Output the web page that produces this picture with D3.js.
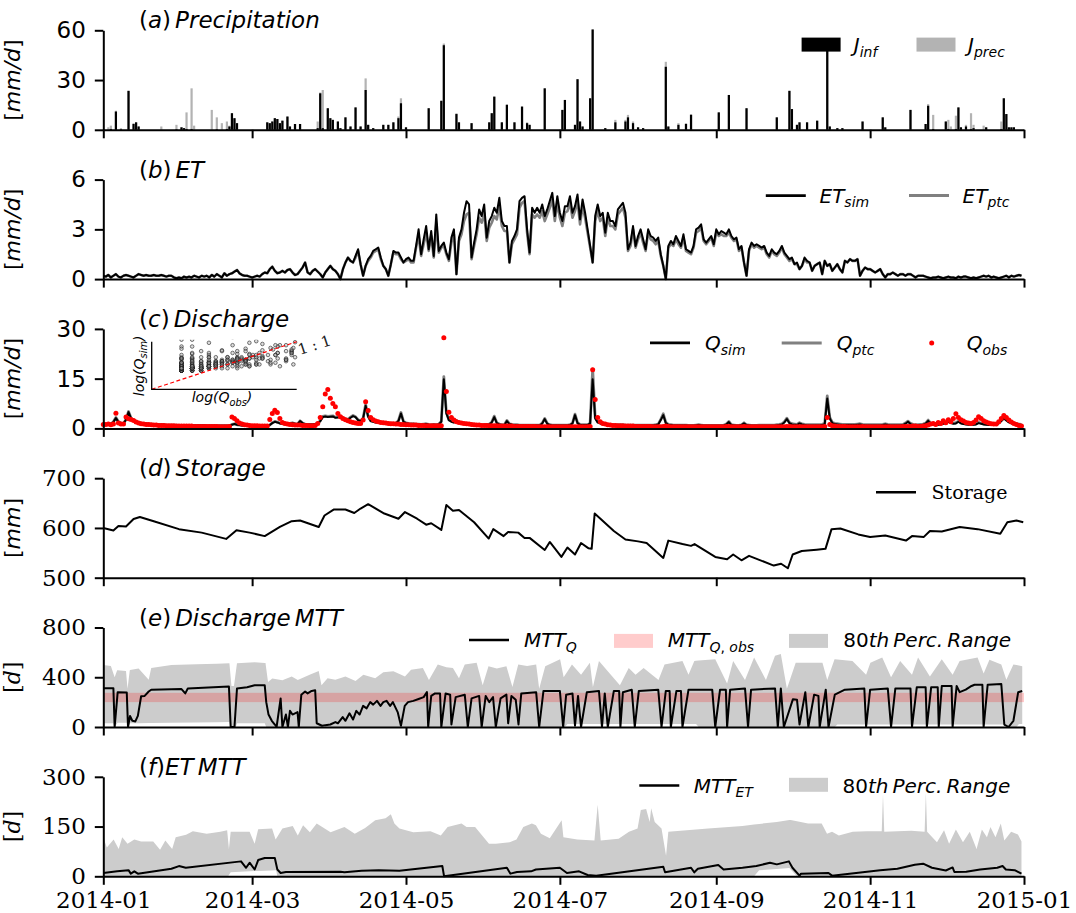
<!DOCTYPE html>
<html><head><meta charset="utf-8">
<script src="https://cdnjs.cloudflare.com/ajax/libs/d3/7.8.5/d3.min.js"></script>
<style>body{margin:0;background:#fff}svg{display:block}</style>
</head><body>
<svg id="fig" width="1076" height="913"></svg>
<script>
// ---------------- data (2014, daily) ----------------
// rain events: [day of year (0 = Jan 1), J_prec mm/d, J_inf mm/d]
const rainEvents = [
[2,1.5,0],[3,2.5,0.5],[5,11.5,11],[7,1,0.3],[10,23.5,23.5],[12,4,3.5],[13,4.5,4.5],[14,2,2],
[23,2,0],[29,3,0.3],[31,1.5,1.5],[32,1,1],[33,10.5,0.5],[35,25,0.5],[36,2.5,0],[43,12,0],
[45,7.5,0.3],[47,4,0],[49,5,0.5],[50,2.5,2],[51,10,10],[52,7,7],[53,4,4],
[65,4.5,4.5],[66,4,4],[67,5,5],[68,7,7],[69,6.5,6.5],[70,4,4],[71,5.5,5.5],[73,8,8],[74,2,2],[76,3.5,3.5],[78,3.5,3.5],
[85,5,1],[86,22.5,22],[87,24,1],[89,13,13],[90,7,7],[91,6,6],[93,5,5],[94,1,1],[96,7.5,7.5],[98,2,2],[100,13.5,13.5],
[102,2,2],[104,31,24],[105,3,3],[107,1,1],[111,3,3],[113,3,3],[115,4.5,4.5],[117,8,7],[118,19,16],[120,1.5,1.5],
[129,13,13],[134,17.5,17.5],[135,52,51],[140,10,9.5],[141,4.5,4.5],[146,4,4],
[153,4.5,4.5],[154,10,10],[155,20,20],[158,4.5,4.5],[160,15.5,15],[163,4.5,4.5],[166,14,14],[168,4.5,4],
[169,3,3],[175,25,25],[182,12,12],[183,18,18],[187,3,3],[188,30.5,30.5],[189,5,5],[190,2,2],[193,19,19],[194,60.5,60.5],
[199,1,1],[203,6,4.5],[207,6,5],[208,9,7.5],[210,5,4],[212,1.5,1.5],[214,1,1],[223,41,38],[224,2,2],
[228,4,3],[231,4,3.5],[233,9.5,9],[244,10.5,10.5],[248,21,21],[255,13,13],[267,7.5,7.5],
[272,23.5,23.5],[273,12.5,12.5],[275,3,3],[276,4.5,4.5],[279,4.5,4.5],[283,5.5,5.5],[287,50,50],[288,2,2],
[291,1,1],[293,1,1],[301,5,5],[309,7.5,7.5],[310,1.5,1.5],[320,12,12],[326,3.5,3.5],[327,15.5,14.5],[329,9,0.5],
[334,5,5],[335,6,0.5],[336,2,0],[338,8.5,0.5],[339,13.5,13.5],[340,1.5,1.5],[342,3,2],[344,10,0.5],[345,3,1],
[349,2.5,0],[350,1.5,1.5],[356,5,0.5],[357,19,19],[358,9.5,9.5],[359,1.5,1.5],[360,1.5,1.5],[361,1.5,1.5]
];

// evapotranspiration, mm/d, one value per day
const etSim = [
.2,.15,.25,.1,.2,.3,.15,.1,.2,.25,
.2,.15,.1,.2,.3,.25,.2,.25,.2,.2,
.25,.2,.2,.25,.2,.15,.2,.2,.1,.05,
.1,.05,.15,.1,.15,.1,.2,.15,.1,.2,
.15,.2,.1,.25,.15,.3,.2,.1,.35,.2,
.3,.35,.45,.55,.35,.25,.2,.2,.15,.1,
.15,.2,.15,.3,.4,.35,.6,.75,.5,.35,
.4,.5,.4,.55,.6,.4,.25,.3,.5,.7,
1.0,.4,.3,.5,.6,.45,.3,.1,.4,.6,
.8,.6,.5,.3,0,.6,1.0,1.3,1.1,1.0,
1.4,1.8,.9,.2,.8,1.2,1.4,1.7,1.8,1.9,
1.3,.8,.6,.2,.9,1.7,1.6,1.6,1.3,1.0,
1.2,1.3,1.1,1.1,2.0,3.0,1.5,2.4,3.2,1.8,
2.9,1.4,3.9,1.7,2.0,2.2,1.6,1.2,2.5,3.0,
.3,2.5,3.0,4.0,4.7,4.5,1.3,2.2,3.0,4.2,
3.8,4.5,2.5,3.5,3.8,4.3,4.0,4.9,3.5,3.2,
3.2,1.0,2.3,2.6,3.0,4.7,4.9,5.0,3.0,1.6,
4.3,4.0,4.3,4.0,4.5,3.8,4.2,4.7,5.2,3.8,
5.0,4.0,3.5,4.4,4.4,5.0,4.0,4.4,5.1,3.6,
4.8,4.0,3.0,2.0,1.0,3.8,4.5,3.8,4.0,2.8,
4.0,3.5,3.5,3.2,4.2,4.4,4.6,4.0,1.8,2.2,
3.2,2.0,2.6,3.0,2.4,1.8,3.0,2.6,2.5,2.3,
2.5,1.5,.8,0,2.0,2.3,2.1,2.6,2.3,2.0,
2.7,1.8,1.7,1.6,2.0,3.0,3.1,3.3,2.4,2.2,
2.4,2.6,2.1,3.0,2.7,2.9,2.8,2.7,3.0,2.6,
2.4,2.5,1.8,2.0,1.0,.2,1.8,2.2,2.0,2.1,
2.0,1.9,2.0,1.6,1.4,1.8,1.6,1.5,1.7,2.0,
1.6,1.4,1.2,1.3,.9,1.0,.6,.8,1.3,1.1,
1.0,.5,.8,.9,1.0,.3,1.1,.8,.9,.5,
.7,.9,.6,.4,1.1,1.0,1.2,1.1,1.1,1.2,
.2,.5,.7,.6,.6,.5,.4,.5,.6,.3,
.1,.3,.3,.4,.3,.2,.3,.3,.2,.3,
.3,.2,.1,.2,.2,.2,.15,.1,.05,.1,
.1,.15,.1,.05,.1,.15,.1,.1,.05,.15,
.1,.15,.15,.1,.05,.1,.05,.1,.15,.2,
.15,.2,.1,.15,.1,.05,.1,.15,.2,.1,
.2,.15,.2,.25,.2
];
const etPtc = [
.2,.15,.25,.1,.2,.3,.15,.1,.2,.25,
.2,.15,.1,.2,.3,.25,.2,.25,.2,.2,
.25,.2,.2,.25,.2,.15,.2,.2,.1,.05,
.1,.05,.15,.1,.15,.1,.2,.15,.1,.2,
.15,.2,.1,.25,.15,.3,.2,.1,.35,.2,
.3,.35,.45,.55,.35,.25,.2,.2,.15,.1,
.15,.2,.15,.3,.4,.35,.6,.75,.5,.35,
.4,.5,.4,.55,.6,.4,.25,.3,.5,.7,
1.0,.4,.3,.5,.6,.45,.3,.1,.4,.6,
.8,.6,.5,.3,0,.6,1.0,1.3,1.1,1.0,
1.3,1.7,.9,.2,.8,1.1,1.3,1.6,1.7,1.8,
1.2,.8,.6,.2,.9,1.6,1.5,1.5,1.2,1.0,
1.1,1.2,1.0,1.0,1.9,2.6,1.4,2.1,2.8,1.7,
2.6,1.3,3.3,1.6,1.9,2.0,1.5,1.1,2.2,2.7,
.3,2.3,2.7,3.5,3.9,4.0,1.2,2.0,2.7,3.7,
3.4,4.0,2.3,3.1,3.4,3.8,3.6,4.4,3.2,2.9,
2.9,1.0,2.1,2.4,2.7,4.3,4.6,4.7,2.8,1.5,
3.9,3.7,3.9,3.7,4.1,3.5,3.9,4.3,4.8,3.5,
4.6,3.7,3.2,4.0,4.1,4.6,3.7,4.1,4.7,3.3,
4.4,3.7,2.8,1.9,1.0,3.5,4.1,3.5,3.7,2.6,
3.7,3.2,3.2,3.0,3.9,4.1,4.3,3.7,1.7,2.0,
3.0,1.9,2.4,2.8,2.2,1.7,2.8,2.4,2.3,2.1,
2.3,1.4,.8,0,1.9,2.1,2.0,2.4,2.1,1.9,
2.5,1.7,1.6,1.5,1.9,2.8,2.9,3.1,2.3,2.1,
2.3,2.5,2.0,2.8,2.6,2.7,2.6,2.6,2.8,2.5,
2.3,2.4,1.7,1.9,1.0,.2,1.7,2.1,1.9,2.0,
1.9,1.8,1.9,1.5,1.3,1.7,1.5,1.4,1.6,1.9,
1.5,1.3,1.1,1.2,.9,.9,.6,.8,1.2,1.0,
1.0,.5,.8,.9,1.0,.3,1.1,.8,.9,.5,
.7,.9,.6,.4,1.1,1.0,1.2,1.1,1.1,1.2,
.2,.5,.7,.6,.6,.5,.4,.5,.6,.3,
.1,.3,.3,.4,.3,.2,.3,.3,.2,.3,
.3,.2,.1,.2,.2,.2,.15,.1,.05,.1,
.1,.15,.1,.05,.1,.15,.1,.1,.05,.15,
.1,.15,.15,.1,.05,.1,.05,.1,.15,.2,
.15,.2,.1,.15,.1,.05,.1,.15,.2,.1,
.2,.15,.2,.25,.2
];

// discharge, mm/d, one value per day
const qSim = [
1.3,1.3,1.3,1.4,1.9,3.1,1.9,1.6,1.5,2.6,
4.9,3.0,2.4,2.0,1.8,1.6,1.5,1.4,1.3,1.3,
1.2,1.2,1.1,1.1,1.1,1.0,1.0,1.0,1.0,1.0,
.9,.9,.9,.9,.9,.9,.9,.9,.9,.9,
.9,.8,.8,.8,.8,.8,.8,.8,.8,.8,
.8,1.1,1.3,1.1,1.0,.9,.9,.9,.9,.9,
.9,.9,.8,.8,.8,.8,1.0,1.6,2.0,1.8,
1.5,1.4,1.3,1.2,1.4,1.6,1.4,1.3,2.2,1.6,
1.3,1.2,1.2,1.2,1.3,1.4,2.2,3.4,3.6,3.4,
3.5,3.6,3.2,3.3,3.5,3.0,2.8,2.6,3.2,3.7,
3.4,2.5,2.2,3.0,6.8,3.5,2.2,2.0,1.8,1.7,
1.6,1.8,1.5,1.4,1.5,1.4,1.5,2.2,4.5,2.0,
1.6,1.4,1.3,1.3,1.2,1.2,1.1,1.2,1.3,1.1,
1.0,1.1,1.0,1.2,2.0,14.8,4.5,2.5,2.0,1.8,
2.3,1.8,1.5,1.4,1.3,1.2,1.2,1.1,1.1,1.0,
1.0,1.0,1.1,1.2,1.8,3.4,1.6,1.2,1.0,1.0,
2.2,1.3,1.1,1.0,1.0,.9,.9,.9,.9,.9,
.9,.9,.9,.9,1.5,2.8,1.4,1.0,.9,.9,
.9,.9,.9,.9,.9,1.0,1.5,4.0,1.6,1.1,
1.0,1.0,1.0,1.5,14.8,3.0,1.8,1.5,1.3,1.2,
1.1,1.1,1.0,1.0,1.0,1.0,1.0,.9,.9,.9,
.9,.9,.9,.9,.9,.9,.9,.9,.9,1.0,
1.2,2.5,4.0,1.6,1.1,1.0,.9,.9,.9,.9,
.9,.9,.8,.8,.8,.9,1.0,.9,.8,.8,
.8,.8,.8,.8,.8,.8,.9,1.2,1.9,1.0,
.9,.8,.8,1.0,1.5,1.0,.9,.8,.8,.8,
.8,.8,.8,.8,.8,.8,.8,.9,1.0,1.2,
1.8,2.8,1.6,1.2,1.1,1.0,1.5,1.2,1.0,.9,
.9,.9,.9,.9,.9,1.0,1.3,9.0,3.0,1.6,
1.3,1.2,1.1,1.0,1.0,1.0,1.0,1.0,1.0,1.1,
1.2,1.0,.9,.9,.9,.9,.9,.9,.9,1.0,
1.2,1.0,.9,.9,.9,.9,.9,1.0,1.4,2.0,
1.3,1.0,.9,.9,1.0,1.1,1.4,2.3,1.4,1.1,
1.0,1.1,1.2,1.4,1.6,2.0,1.6,1.4,1.5,2.0,
1.5,1.3,1.2,1.1,1.1,1.1,1.2,1.6,1.4,1.2,
1.1,1.0,1.0,1.0,1.1,1.5,2.2,3.0,2.4,1.8,
1.5,1.3,1.2,1.1,1.0
];
const qPtc = [
1.3,1.3,1.3,1.4,2.0,3.3,2.0,1.6,1.5,2.7,
5.1,3.1,2.5,2.1,1.8,1.6,1.5,1.4,1.3,1.3,
1.2,1.2,1.1,1.1,1.1,1.0,1.0,1.0,1.0,1.0,
.9,.9,.9,.9,.9,.9,.9,.9,.9,.9,
.9,.8,.8,.8,.8,.8,.8,.8,.8,.8,
.8,1.2,1.4,1.1,1.0,.9,.9,.9,.9,.9,
.9,.9,.8,.8,.8,.8,1.0,1.7,2.1,1.9,
1.6,1.4,1.3,1.2,1.5,1.7,1.4,1.3,2.3,1.6,
1.3,1.2,1.2,1.2,1.3,1.5,2.3,3.6,3.8,3.6,
3.7,3.8,3.4,3.5,3.7,3.2,2.9,2.7,3.4,3.9,
3.5,2.6,2.3,3.1,7.2,3.7,2.3,2.1,1.9,1.8,
1.7,1.9,1.6,1.5,1.6,1.5,1.6,2.3,4.8,2.1,
1.7,1.5,1.4,1.4,1.3,1.3,1.2,1.3,1.4,1.2,
1.1,1.2,1.1,1.3,2.1,15.6,4.8,2.6,2.1,1.9,
2.4,1.9,1.6,1.5,1.4,1.3,1.3,1.2,1.2,1.1,
1.1,1.1,1.2,1.3,1.9,3.7,1.7,1.3,1.1,1.1,
2.4,1.4,1.2,1.1,1.1,1.0,1.0,1.0,1.0,1.0,
1.0,1.0,1.0,1.0,1.6,3.0,1.5,1.1,1.0,1.0,
1.0,1.0,1.0,1.0,1.0,1.1,1.6,4.3,1.7,1.2,
1.1,1.1,1.1,1.6,17.9,3.3,1.9,1.6,1.4,1.3,
1.2,1.2,1.1,1.1,1.1,1.1,1.1,1.0,1.0,1.0,
1.0,1.0,1.0,1.0,1.0,1.0,1.0,1.0,1.0,1.1,
1.3,2.7,4.4,1.8,1.2,1.1,1.0,1.0,1.0,1.0,
1.0,1.0,.9,.9,.9,1.0,1.1,1.0,.9,.9,
.9,.9,.9,.9,.9,.9,1.0,1.3,2.1,1.1,
1.0,.9,.9,1.1,1.7,1.1,1.0,.9,.9,.9,
1.0,1.0,1.0,1.0,1.0,1.0,1.0,1.1,1.2,1.4,
2.0,3.1,1.8,1.4,1.3,1.2,1.7,1.4,1.2,1.1,
1.1,1.1,1.1,1.1,1.1,1.2,1.5,9.8,3.3,1.8,
1.5,1.4,1.3,1.2,1.2,1.2,1.2,1.2,1.2,1.3,
1.4,1.2,1.1,1.1,1.1,1.1,1.1,1.1,1.1,1.2,
1.4,1.2,1.1,1.1,1.1,1.1,1.1,1.2,1.6,2.2,
1.5,1.2,1.1,1.1,1.2,1.3,1.6,2.5,1.6,1.3,
1.2,1.3,1.4,1.6,1.8,2.2,1.8,1.6,1.7,2.2,
1.7,1.5,1.4,1.3,1.3,1.3,1.4,1.8,1.6,1.4,
1.3,1.2,1.2,1.2,1.3,1.7,2.4,3.3,2.6,2.0,
1.7,1.5,1.4,1.3,1.2
];
const qObs = [
1.2,1.2,1.3,1.1,1.3,4.6,1.6,1.3,1.3,3.4,
2.9,2.7,2.4,1.9,1.6,1.4,1.3,1.2,1.2,1.1,
1.0,1.0,.9,.9,.9,.8,.8,.8,.8,.7,
.7,.7,.7,.7,.7,.7,.6,.6,.6,.6,
.6,.6,.6,.6,.6,.6,.5,.5,.5,.5,
.6,3.4,3.0,2.3,1.6,1.3,1.1,1.0,.9,.8,
.8,.8,.7,.7,.7,.7,2.7,4.5,5.5,4.8,
3.0,1.8,1.5,1.3,1.2,1.1,1.0,1.0,1.0,.9,
.9,.9,.8,.8,.9,1.5,3.3,6.5,10.4,11.7,
9.1,7.5,6.5,4.5,3.5,3.0,2.6,2.3,2.0,1.8,
1.6,1.5,1.5,2.5,8.0,5.4,3.3,2.6,2.2,2.0,
1.8,1.7,1.6,1.5,1.4,1.4,1.3,1.3,1.2,1.2,
1.1,1.1,1.0,1.0,1.0,.9,.9,.9,.8,.8,
.8,.8,.8,.8,.8,27.3,11.1,4.9,3.3,2.5,
2.0,1.8,1.6,1.5,1.4,1.3,1.2,1.1,1.0,1.0,
.9,.9,.9,.8,.8,.8,.8,.7,.7,.7,
.7,.7,.7,.6,.6,.6,.6,.6,.6,.6,
.6,.6,.5,.5,.5,.5,.5,.5,.5,.5,
.5,.5,.5,.5,.5,.5,.5,.5,.5,.5,
.5,.5,.5,.6,17.7,8.75,3.3,2.0,1.5,1.3,
1.1,1.0,.9,.9,.8,.8,.8,.7,.7,.7,
.7,.6,.6,.6,.6,.6,.6,.6,.5,.5,
.5,.5,.6,.7,.6,.5,.5,.5,.5,.5,
.5,.5,.5,.5,.5,.5,.5,.5,.5,.5,
.5,.5,.5,.5,.5,.5,.5,.6,.6,.5,
.5,.5,.5,.5,.6,.5,.5,.5,.5,.5,
.5,.5,.5,.5,.5,.5,.5,.5,.5,.5,
.5,.6,.6,.5,.5,.5,.5,.5,.5,.5,
.5,.5,.5,.5,.5,.5,.6,3.3,1.2,.8,
.7,.6,.6,.6,.6,.5,.5,.5,.5,.5,
.5,.6,.5,.5,.5,.5,.5,.5,.5,.5,
.5,.5,.5,.5,.5,.5,.5,.6,.6,.6,
.6,.7,.7,.6,.6,.7,.8,1.0,1.3,1.5,
1.2,1.8,1.5,2.3,1.7,2.6,2.0,3.0,4.4,3.3,
2.6,2.2,1.8,1.6,1.5,1.8,2.5,3.5,3.0,2.3,
1.9,1.6,1.4,1.3,1.3,2.0,3.0,3.9,3.3,2.5,
1.9,1.5,1.2,.9,.7
];

// storage, mm: [day, value]
const storage = [
[0,600],[4,595],[6,604],[9,603],[12,618],[14.5,622],[20,613.6],[30,597.6],[39,590.6],[48.7,578],
[52.8,595.5],[58,590.6],[64,583.6],[70,602],[74.7,613.6],[78,615],[85.4,602],[87.7,625],[91.3,637],
[96,637],[99.5,630],[102,639],[105,647.7],[111.4,629],[117,618.5],[119.6,632],[124.4,618.5],[128,606.6],
[130,609.4],[134,596],[136,646],[138.6,634.5],[141,636],[147,611.5],[152.8,578.7],[154.6,597.6],
[158.7,583.6],[160.5,592],[164.5,590.6],[167,580],[169,580],[175,555.7],[177,571.8],[181.6,541.8],
[184,560.6],[187,546.7],[189.4,569.7],[192.4,559],[193.6,558],[194.8,629],[202.4,594],[207,576.7],
[212,573],[215.4,569.7],[222,539.7],[224,574.5],[229.6,567.6],[233,564],[234.4,567.6],[242.6,541.8],
[247.3,537],[249.7,546.7],[253,535],[256,544],[265.8,524.4],[268.7,528],[271.4,519],[273.3,546.7],
[276.9,553.7],[282.8,556.4],[286.3,558],[288.7,597.6],[292.2,599],[299.3,587],[304,582],[310,585],
[318.2,574.6],[320.6,583.6],[325.3,582],[327.7,594],[332.4,592.7],[339.5,602],[346.6,597.6],
[355.6,588.5],[358.4,611.5],[362,615],[364.7,611.5]
];

// discharge mean transit time, days: [day, value]
const mttQ = [
[0,312],[4,312],[4.5,0],[5.7,280],[9.3,278],[9.8,0],[10.6,88],[11.5,50],[12.7,45],[13.7,90],[15,247],
[16.4,250],[18,285],[19,300],[31,305],[32.5,270],[33.5,310],[49.8,325],[50.5,0],[52,0],[53,310],[57,320],
[60,335],[64,335],[64.6,200],[65.5,100],[66.8,50],[68,20],[68.7,0],[70.3,230],[71,0],[72.4,100],[73.2,0],
[74,130],[75,100],[77,120],[77.5,0],[78.5,260],[80,285],[81,270],[82.6,290],[84,295],[84.6,30],[86.7,10],
[88,15],[90,20],[92,40],[93,30],[94.9,80],[96,50],[97.6,110],[99,60],[100.3,130],[101.6,100],[103,170],
[104.4,150],[105.8,200],[107,180],[108.5,210],[109.9,170],[111,200],[112.3,210],[113.7,170],[114.8,200],
[116.7,120],[118,10],[119.5,170],[120.8,200],[122.9,210],[125,225],[127,240],[128.3,280],[128.8,0],
[130,250],[131.5,270],[133.5,270],[134,0],[135.7,270],[137.5,260],[138,20],[139.7,240],[143.3,260],[144.5,0],
[146,230],[149,250],[150,0],[151.6,250],[153,200],[154.5,240],[155.6,0],[157.5,230],[159.8,260],[160.5,30],
[161.8,250],[163.5,220],[164.6,20],[165.7,270],[171.6,280],[172.8,0],[174.5,290],[181,290],[182.3,0],
[183.5,260],[186,270],[187,10],[188.2,250],[189.4,0],[191.7,280],[196.5,290],[197.7,0],[198.8,270],[200,0],
[202.4,290],[204.5,290],[205,0],[206,280],[209.5,300],[210.7,0],[212.3,290],[220,300],[221.3,0],[223,290],
[224.5,290],[225,0],[227.2,290],[229,290],[229.6,0],[232,300],[241.4,300],[242.6,0],[244.5,300],[246.8,300],
[247.3,0],[248.5,300],[254.4,310],[255.6,0],[256.8,300],[266.3,310],[267.4,0],[268.6,310],[269.8,0],
[273.4,224],[275,220],[276,20],[278.3,280],[279.5,0],[281.8,260],[283.5,250],[284,0],[286.4,300],[287.5,0],
[290,260],[292,280],[294,300],[301.7,310],[302.4,0],[304,300],[311,310],[312.3,0],[314,310],[320,310],
[320.6,0],[322.5,320],[326,320],[326.5,0],[328.2,320],[330.8,320],[331.2,0],[332.4,330],[336.3,330],
[336.7,0],[338.3,330],[339.5,280],[341.9,300],[344.2,330],[345.4,340],[348.5,340],[349,0],[350.6,340],
[356,345],[357.2,20],[358.9,0],[360.8,50],[362.7,280],[364.3,290]
];
const mttQHigh = [
[0,498],[3,490],[4.5,400],[5.5,457],[9,450],[9.6,307],[10.5,457],[14,471],[18,380],[19,475],[27,498],
[37,504],[45,508],[50,512],[50.8,330],[51.8,330],[53,512],[60,520],[64.3,515],[65.3,362],[67,389],[71,375],
[74.7,406],[77.1,378],[81.8,420],[85.4,450],[86.5,336],[88.9,392],[92,380],[96,406],[100,370],[103.1,420],
[107.8,392],[111,440],[115,448],[119.6,406],[122,461],[126.7,475],[129.1,378],[132.6,503],[136,480],
[138.6,475],[141,392],[143.3,503],[148,517],[150.4,336],[152.7,489],[156,470],[159.8,489],[162.2,322],
[164.5,503],[168,490],[171.6,503],[172.8,308],[175.2,489],[181.1,545],[182.5,400],[185.8,503],[189.4,420],
[192.9,517],[194.1,322],[196.5,531],[200,448],[204.8,336],[208.3,475],[211,420],[214.2,475],[220.1,378],
[222.5,503],[229.6,531],[232,420],[234.3,531],[242.6,545],[247.3,350],[249.7,531],[254.4,378],[258,559],
[262.7,378],[266.3,573],[268.6,587],[271,308],[274.5,517],[280.4,517],[285.1,517],[287,378],[289.9,545],
[297,531],[302.4,420],[304.1,517],[308.8,559],[312.3,400],[315.9,531],[320.6,420],[323,559],[327.7,406],
[332.4,545],[336.7,420],[339.5,531],[346.6,559],[349,430],[351.3,540],[356,503],[358,380],[360.8,503],
[364.3,489]
];
const mttQLow = [
[0,30],[4,30],[4.5,0],[5.7,35],[9.3,35],[9.8,0],[10.6,30],[50,40],[50.5,0],[52.5,0],[53,30],[64,30],
[64.6,0],[183,0],[184,25],[235,25],[236,0],[290,0],[291,20],[358,20],[359,0],[362,0],[363,25],[364.3,25]
];
const mttQObsBand = [200, 275];   // observed MTT range, days

// ET mean transit time, days: [day, value]
const mttET = [
[0,10],[5.5,15],[10,18.5],[10.9,8],[12.3,15],[13.7,8],[27,22.6],[30,30.8],[32.7,25.7],[54.6,45],
[56.6,25.7],[58,41],[60,20.5],[61.4,49],[64,55],[68,55],[69,20.5],[70.3,10],[72.4,13],[94,14],[95.6,12],
[102.4,16.4],[109.2,18.5],[117.4,16.4],[134.4,31],[135.1,0],[160,25.7],[161.4,8],[164,13],[169.6,15],
[171.5,20.5],[181,25.7],[183.8,10],[188.6,15],[192,4],[195.4,2],[222,28.8],[222.7,12],[233,25.7],
[234.3,12],[235.7,22.6],[243.8,34],[245.9,20.5],[253.4,25.7],[258.9,31],[264.3,41],[267,36],[271.8,45],
[273.2,25.7],[276,2],[276.6,8],[287.5,10],[288.9,2],[308,18.5],[314.8,22.6],[321.7,35],[325,38],
[328.5,25.7],[334,17.5],[336.7,26.7],[337.4,13],[342.1,14],[347.6,20.5],[354.4,25.7],[356.5,31],
[357.8,20.5],[361.3,18.5],[364,8]
];
const mttETHigh = [
[0,118],[1.4,87],[4.1,111],[6.1,82],[7.5,118],[9.6,98],[12.3,111],[15,105],[19.8,105],[22.5,80],
[24.6,108],[27.3,82],[28.7,118],[32.8,125],[35.5,136],[41,128],[46.4,134],[49.1,139],[49.8,82],[50.5,134],
[58,134],[60,98],[61.4,142],[66.9,144],[68.3,111],[71,144],[75.1,152],[77.1,123],[79.2,154],[81.9,133],
[84.6,159],[90.1,133],[95.6,149],[99.7,128],[103.8,146],[107.8,169],[111.9,175],[114,187],[115.4,159],
[117.4,144],[122.9,133],[129.7,136],[133.8,123],[136.5,149],[142,159],[144,149],[147.4,149],[152.9,98],
[155.6,98],[161.1,103],[163.8,111],[166.5,149],[169.9,159],[171.5,154],[173.5,128],[177,115],[181.7,169],
[182.4,118],[187.9,111],[194.7,108],[196,216],[197.2,108],[204.3,113],[208.4,134],[211.8,144],[213.1,200],
[215.2,203],[216.6,164],[217.2,205],[218.6,164],[221.3,144],[223.1,62],[224,134],[239.8,144],[253.4,152],
[267,164],[272.5,170],[279.4,159],[284.8,159],[286.9,128],[288.9,134],[291.6,123],[297.1,134],[302.6,136],
[308.6,136],[309.1,247],[309.6,134],[314.8,136],[320.3,137],[325.6,134],[326.1,252],[326.6,134],
[330.5,103],[333.3,139],[335.3,98],[338,141],[340.8,103],[343.5,134],[346.2,82],[348.3,141],[350.3,118],
[351.7,149],[353.7,118],[355.8,159],[357.2,108],[359.9,134],[362.6,126],[364,105]
];
const mttETLow = [
[0,0],[49.5,0],[50.5,12],[60,16],[68.5,18],[69,0],[258,0],[260,18],[272,25],[275,0],[364,0]
];

// axis ticks
const monthTicks = d3.utcMonth.every(2);
const yTicks = {a:[0,30,60], b:[0,3,6], c:[0,15,30], d:[500,600,700], e:[0,400,800], f:[0,150,300]};
const yDomains = {a:[0,60], b:[0,6], c:[0,30], d:[500,700], e:[0,800], f:[0,300]};
const insetRange = [0.3, 3.6];   // discharge range shown in the log-log inset, mm/d

// ---------------- layout ----------------
const svg = d3.select('#fig');
const X0 = 103.3, X1 = 1024;
const panelTop = [30.3, 179.6, 328.9, 478.2, 627.5, 776.8];
const PH = 99.5;
const SANS = 'DejaVu Sans', SERIF = 'DejaVu Serif';
const t0 = Date.UTC(2014,0,1);
const dayDate = d => new Date(t0 + d*864e5);
const x = d3.scaleUtc().domain([dayDate(0), dayDate(365)]).range([X0, X1]);
const daily = arr => arr.map((v,i) => [i, v]);

// text with italic runs and subscripts
function rich(parent, px, py, parts, o) {
  const size = o.size;
  const t = parent.append('text').attr('x', px).attr('y', py)
    .attr('font-family', o.family || SANS).attr('font-size', size).attr('fill', o.fill || '#000');
  if (o.anchor) t.attr('text-anchor', o.anchor);
  if (o.rotate) t.attr('transform', `rotate(${o.rotate},${px},${py})`);
  let base = 0;
  parts.forEach(p => {
    const [s, st, sub, dx] = p;
    const ts = t.append('tspan').text(s);
    if (st === 'i') ts.attr('font-style', 'italic');
    const shift = sub ? size*0.24 : 0;
    if (shift !== base) { ts.attr('dy', shift - base); base = shift; }
    if (sub) ts.attr('font-size', size*0.7);
    if (dx) ts.attr('dx', dx);
  });
  return t;
}

function makePanel(i, key, tickFamily, showX) {
  const g = svg.append('g').attr('transform', `translate(0,${panelTop[i]})`);
  const y = d3.scaleLinear().domain(yDomains[key]).range([PH, 0]);
  return {g, y, finish() {
    const xa = d3.axisBottom(x).ticks(monthTicks).tickSize(8.5).tickSizeOuter(0).tickPadding(7)
      .tickFormat(showX ? d3.utcFormat('%Y-%m') : () => '');
    const gx = g.append('g').attr('transform', `translate(0,${PH})`).call(xa);
    const ya = d3.axisLeft(y).tickValues(yTicks[key]).tickFormat(d3.format('d'))
      .tickSize(8.5).tickSizeOuter(0).tickPadding(9);
    const gy = g.append('g').attr('transform', `translate(${X0},0)`).call(ya);
    [gx, gy].forEach(a => {
      a.selectAll('.domain, .tick line').attr('stroke', '#000').attr('stroke-width', 2);
      a.attr('font-size', 23);
    });
    gx.attr('font-family', SERIF);
    gy.attr('font-family', tickFamily);
    gx.selectAll('text').attr('fill', '#000');
    gy.selectAll('text').attr('fill', '#000');
  }};
}

const lineGen = y => d3.line().x(d => x(dayDate(d[0]))).y(d => y(d[1]));
const areaGen = (y, lo, hi) => {
  // grey band between two breakpoint lists, evaluated on the union of their days
  const days = Array.from(new Set(lo.map(d=>d[0]).concat(hi.map(d=>d[0])))).sort((a,b)=>a-b);
  const at = (list, d) => {
    const k = d3.bisector(p => p[0]).left(list, d);
    if (k <= 0) return list[0][1];
    if (k >= list.length) return list[list.length-1][1];
    const a = list[k-1], b = list[k];
    return a[1] + (b[1]-a[1])*(d-a[0])/(b[0]-a[0]);
  };
  const pts = days.map(d => [d, at(lo, d), at(hi, d)]);
  return d3.area().x(d => x(dayDate(d[0]))).y0(d => y(d[1])).y1(d => y(d[2]))(pts);
};

function legendLine(g, x0, yy, color, w) {
  g.append('line').attr('x1', x0).attr('x2', x0+40).attr('y1', yy).attr('y2', yy)
    .attr('stroke', color).attr('stroke-width', w);
}
function legendPatch(g, x0, yy, color, op) {
  g.append('rect').attr('x', x0).attr('y', yy-7).attr('width', 39).attr('height', 14)
    .attr('fill', color).attr('fill-opacity', op == null ? 1 : op);
}
function title(g, parts) {
  rich(g, 139, -2, parts, {size: 23});
}
function ylabel(g, parts, family) {
  rich(g, 20, PH/2, parts, {size: 22, anchor: 'middle', rotate: -90, family});
}

// ---------------- (a) precipitation ----------------
{
  const P = makePanel(0, 'a', SANS, false), g = P.g, y = P.y;
  g.selectAll('rect.prec').data(rainEvents).join('rect')
    .attr('x', d => x(dayDate(d[0])) - 1.1).attr('width', 2.2)
    .attr('y', d => y(d[1])).attr('height', d => y(0) - y(d[1])).attr('fill', '#b3b3b3');
  g.selectAll('rect.inf').data(rainEvents.filter(d => d[2] > 0)).join('rect')
    .attr('x', d => x(dayDate(d[0])) - 1.1).attr('width', 2.2)
    .attr('y', d => y(d[2])).attr('height', d => y(0) - y(d[2])).attr('fill', '#000');
  P.finish();
  title(g, [['(', 'n'], ['a', 'i'], [')', 'n'], ['Precipitation', 'i', false, 4]]);
  ylabel(g, [['[', 'n'], ['mm/d', 'i'], [']', 'n']], SANS);
  legendPatch(g, 801.6, 14.3, '#000');
  rich(g, 853.8, 21.5, [['J', 'i'], ['inf', 'i', true]], {size: 20});
  legendPatch(g, 916.5, 14.3, '#b3b3b3');
  rich(g, 968, 21.5, [['J', 'i'], ['prec', 'i', true]], {size: 20});
}

// ---------------- (b) ET ----------------
{
  const P = makePanel(1, 'b', SANS, false), g = P.g, y = P.y;
  g.append('path').attr('d', lineGen(y)(daily(etPtc))).attr('fill', 'none')
    .attr('stroke', '#808080').attr('stroke-width', 2.6).attr('stroke-linejoin', 'round');
  g.append('path').attr('d', lineGen(y)(daily(etSim))).attr('fill', 'none')
    .attr('stroke', '#000').attr('stroke-width', 2).attr('stroke-linejoin', 'round');
  P.finish();
  title(g, [['(', 'n'], ['b', 'i'], [')', 'n'], ['ET', 'i', false, 4]]);
  ylabel(g, [['[', 'n'], ['mm/d', 'i'], [']', 'n']], SANS);
  legendLine(g, 765.8, 16, '#000', 2.6);
  rich(g, 819.5, 23, [['ET', 'i'], ['sim', 'i', true]], {size: 20});
  legendLine(g, 909, 16, '#808080', 3);
  rich(g, 962.6, 23, [['ET', 'i'], ['ptc', 'i', true]], {size: 20});
}

// ---------------- (c) discharge ----------------
{
  const P = makePanel(2, 'c', SANS, false), g = P.g, y = P.y;
  g.append('path').attr('d', lineGen(y)(daily(qPtc))).attr('fill', 'none')
    .attr('stroke', '#808080').attr('stroke-width', 2.8).attr('stroke-linejoin', 'round');
  g.append('path').attr('d', lineGen(y)(daily(qSim))).attr('fill', 'none')
    .attr('stroke', '#000').attr('stroke-width', 2).attr('stroke-linejoin', 'round');
  g.selectAll('circle.obs').data(daily(qObs)).join('circle')
    .attr('cx', d => x(dayDate(d[0]))).attr('cy', d => y(d[1])).attr('r', 2.5).attr('fill', '#ff0000');
  P.finish();
  title(g, [['(', 'n'], ['c', 'i'], [')', 'n'], ['Discharge', 'i', false, 4]]);
  ylabel(g, [['[', 'n'], ['mm/d', 'i'], [']', 'n']], SANS);
  legendLine(g, 650, 14, '#000', 2.6);
  rich(g, 705, 21, [['Q', 'i'], ['sim', 'i', true]], {size: 20});
  legendLine(g, 781.7, 14, '#808080', 3);
  rich(g, 836.7, 21, [['Q', 'i'], ['ptc', 'i', true]], {size: 20});
  g.append('circle').attr('cx', 931.7).attr('cy', 14).attr('r', 2.5).attr('fill', '#ff0000');
  rich(g, 966.7, 21, [['Q', 'i'], ['obs', 'i', true]], {size: 20});

  // inset: log(Q_obs) against log(Q_sim)
  const ix0 = 151.7, ix1 = 296.7, iy0 = 12.8, iy1 = 60.4; // relative to panel top
  const pairs = qObs.map((v, i) => [v, qSim[i]]);
  const sx = d3.scaleLog().domain(insetRange).range([ix0, ix1]);
  const sy = d3.scaleLog().domain(insetRange).range([iy1, iy0]);
  const ig = g.append('g');
  svg.append('defs').append('clipPath').attr('id', 'insetClip')
    .append('rect').attr('x', ix0).attr('y', iy0 - 2).attr('width', ix1 - ix0 + 2).attr('height', iy1 - iy0 + 2);
  ig.append('g').attr('clip-path', 'url(#insetClip)')
    .selectAll('circle').data(pairs).join('circle')
    .attr('cx', d => sx(d[0])).attr('cy', d => sy(d[1])).attr('r', 1.8)
    .attr('fill', '#9a9a9a').attr('fill-opacity', 0.35).attr('stroke', '#222').attr('stroke-width', 0.6);
  ig.append('line').attr('x1', sx(insetRange[0])).attr('y1', sy(insetRange[0]))
    .attr('x2', sx(insetRange[1])).attr('y2', sy(insetRange[1]))
    .attr('stroke', '#ff0000').attr('stroke-width', 1.2).attr('stroke-dasharray', '4,2.5');
  ig.append('path').attr('d', `M${ix0},${iy0}V${iy1}H${ix1}`).attr('fill', 'none')
    .attr('stroke', '#000').attr('stroke-width', 1.3);
  ig.append('text').attr('x', 316).attr('y', 21).attr('font-family', SERIF).attr('font-size', 15)
    .attr('text-anchor', 'middle').attr('transform', 'rotate(-18,316,21)').attr('fill', '#222').text('1 : 1');
  rich(ig, 222, 73.5, [['log(Q', 'i'], ['obs', 'i', true], [')', 'i']], {size: 14, anchor: 'middle'});
  rich(ig, 144, 37, [['log(Q', 'i'], ['sim', 'i', true], [')', 'i']], {size: 14, anchor: 'middle', rotate: -90});
}

// ---------------- (d) storage ----------------
{
  const P = makePanel(3, 'd', SERIF, false), g = P.g, y = P.y;
  g.append('path').attr('d', lineGen(y)(storage)).attr('fill', 'none')
    .attr('stroke', '#000').attr('stroke-width', 2).attr('stroke-linejoin', 'round');
  P.finish();
  title(g, [['(', 'n'], ['d', 'i'], [')', 'n'], ['Storage', 'i', false, 4]]);
  ylabel(g, [['[', 'n'], ['mm', 'i'], [']', 'n']], SANS);
  legendLine(g, 876, 14, '#000', 2.6);
  g.append('text').attr('x', 931.6).attr('y', 20.5).attr('font-family', SERIF).attr('font-size', 19)
    .attr('fill', '#000').text('Storage');
}

// ---------------- (e) discharge MTT ----------------
{
  const P = makePanel(4, 'e', SERIF, false), g = P.g, y = P.y;
  g.append('path').attr('d', areaGen(y, mttQLow, mttQHigh)).attr('fill', '#cccccc');
  g.append('rect').attr('x', X0).attr('width', X1 - X0)
    .attr('y', y(mttQObsBand[1])).attr('height', y(mttQObsBand[0]) - y(mttQObsBand[1]))
    .attr('fill', '#ff0000').attr('fill-opacity', 0.2);
  g.append('path').attr('d', lineGen(y)(mttQ)).attr('fill', 'none')
    .attr('stroke', '#000').attr('stroke-width', 2).attr('stroke-linejoin', 'round');
  P.finish();
  title(g, [['(', 'n'], ['e', 'i'], [')', 'n'], ['Discharge', 'i', false, 4], ['MTT', 'i', false, 4]]);
  ylabel(g, [['[', 'n'], ['d', 'i'], [']', 'n']], SERIF);
  legendLine(g, 469, 12.5, '#000', 2.6);
  rich(g, 524, 19.5, [['MTT', 'i'], ['Q', 'i', true]], {size: 20});
  legendPatch(g, 614, 13.4, '#ff0000', 0.2);
  rich(g, 667.7, 19.5, [['MTT', 'i'], ['Q', 'i', true], [', ', 'n', true], ['obs', 'i', true]], {size: 20});
  legendPatch(g, 789, 13.4, '#cccccc');
  rich(g, 843.3, 19.5, [['80', 'n'], ['th', 'i'], ['Perc.', 'i', false, 4], ['Range', 'i', false, 4]], {size: 20});
}

// ---------------- (f) ET MTT ----------------
{
  const P = makePanel(5, 'f', SERIF, true), g = P.g, y = P.y;
  g.append('path').attr('d', areaGen(y, mttETLow, mttETHigh)).attr('fill', '#cccccc');
  g.append('path').attr('d', lineGen(y)(mttET)).attr('fill', 'none')
    .attr('stroke', '#000').attr('stroke-width', 2).attr('stroke-linejoin', 'round');
  P.finish();
  title(g, [['(', 'n'], ['f', 'i'], [')', 'n'], ['ET', 'i'], ['MTT', 'i', false, 4]]);
  ylabel(g, [['[', 'n'], ['d', 'i'], [']', 'n']], SERIF);
  legendLine(g, 639.3, 8.7, '#000', 2.6);
  rich(g, 693.7, 15.7, [['MTT', 'i'], ['ET', 'i', true]], {size: 20});
  legendPatch(g, 789, 8, '#cccccc');
  rich(g, 842.5, 15.7, [['80', 'n'], ['th', 'i'], ['Perc.', 'i', false, 4], ['Range', 'i', false, 4]], {size: 20});
}
</script>
</body></html>
